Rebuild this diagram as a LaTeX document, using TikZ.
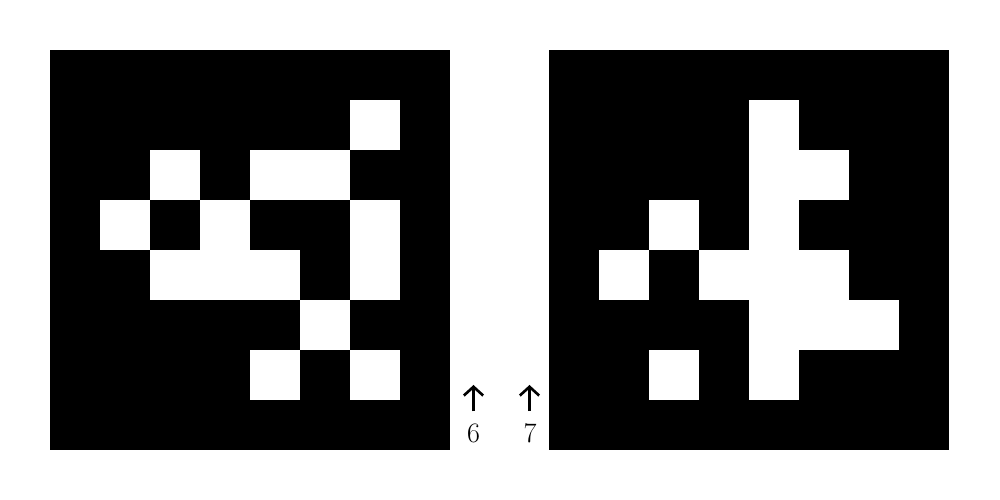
\documentclass[tikz,border=0pt]{standalone}
\usepackage{tikz}
\usetikzlibrary{arrows.meta,positioning}

\begin{document}
\begin{tikzpicture}[
  marker/.style={line width=1.5pt,-{Straight Barb[length=5pt,width=11pt,line width=1.5pt]}},
  digit/.style={font=\fontsize{16}{19}\selectfont,inner sep=2pt}]
  \useasboundingbox(0,0)rectangle(20,10);
  % left pattern
  \fill(1,1)rectangle(9,9);
  \foreach \c/\r in {6/1,2/2,4/2,5/2,1/3,3/3,6/3,2/4,3/4,4/4,6/4,5/5,4/6,6/6}
    \fill[white](1+\c,9-\r)rectangle ++(1,-1);
  % right pattern
  \fill(10.98,1)rectangle(18.98,9);
  \foreach \c/\r in {4/1,4/2,5/2,2/3,4/3,1/4,3/4,4/4,5/4,4/5,5/5,6/5,2/6,4/6}
    \fill[white](10.98+\c,9-\r)rectangle ++(1,-1);
  % markers
  \node[digit](six)at(9.47,1.33){6};
  \node[digit](seven)at(10.6,1.33){7};
  \coordinate(sixtip)at(9.47,2.3);
  \coordinate(seventip)at(10.59,2.3);
  \draw[marker]([yshift=5pt]sixtip|-six.north)--(sixtip);
  \draw[marker]([yshift=5pt]seventip|-seven.north)--(seventip);
\end{tikzpicture}
\end{document}
